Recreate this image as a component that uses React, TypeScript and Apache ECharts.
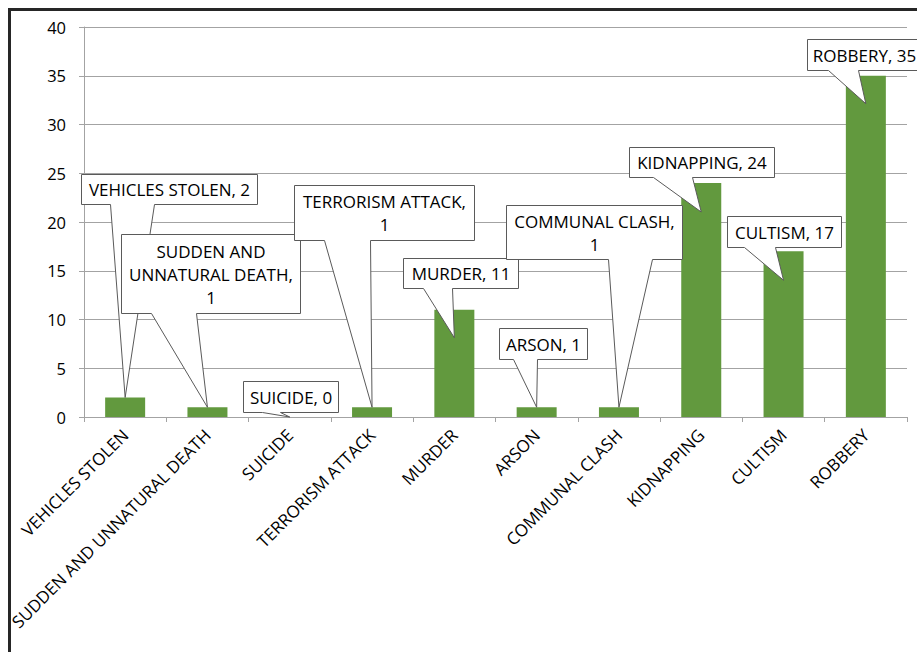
import React, { useEffect, useRef } from "react";
import * as echarts from "echarts";

// Incident categories and counts
const categories: string[] = [
  "VEHICLES STOLEN",
  "SUDDEN AND UNNATURAL DEATH",
  "SUICIDE",
  "TERRORISM ATTACK",
  "MURDER",
  "ARSON",
  "COMMUNAL CLASH",
  "KIDNAPPING",
  "CULTISM",
  "ROBBERY",
];
const counts: number[] = [2, 1, 0, 1, 11, 1, 1, 24, 17, 35];

// Value axis
const yMin = 0;
const yMax = 40;
const yStep = 5;

// Callout layout, in pixels relative to the top-centre of each bar:
// dx/dy = box top-left, w/h = box size, b1/b2 = pointer base along the box bottom,
// tip = how far below the bar top the pointer ends, wrap = max characters per line.
const calloutLayout = [
  { dx: -44, dy: -223.5, w: 176, h: 30, b1: 29, b2: 73, tip: 0, wrap: 40 },
  { dx: -86.5, dy: -173, w: 179, h: 79, b1: 30, b2: 75, tip: 0, wrap: 16 },
  { dx: -47, dy: -36, w: 95, h: 31, b1: 19, b2: 37, tip: 0, wrap: 40 },
  { dx: -78, dy: -222, w: 180, h: 55, b1: 30, b2: 76, tip: 0, wrap: 17 },
  { dx: -51.5, dy: -52, w: 115, h: 30, b1: 20, b2: 49, tip: 28, wrap: 40 },
  { dx: -37.7, dy: -79, w: 88, h: 31, b1: 14, b2: 38, tip: 0, wrap: 40 },
  { dx: -113, dy: -202, w: 176, h: 54, b1: 102, b2: 146, tip: 0, wrap: 15 },
  { dx: -72.3, dy: -36, w: 145, h: 30, b1: 24, b2: 63, tip: 29, wrap: 40 },
  { dx: -56.6, dy: -35, w: 114, h: 31, b1: 17, b2: 48, tip: 29, wrap: 40 },
  { dx: -59, dy: -37, w: 114, h: 31, b1: 21, b2: 51, tip: 28, wrap: 40 },
];

const FONT = "'Open Sans', sans-serif";
const FONT_SIZE = 17;
const TEXT_COLOR = "#000";
const GRID_COLOR = "#a3a3a3";
const BAR_COLOR = "#62993e";

function wrapText(text: string, max: number): string {
  const words = text.split(" ");
  const lines: string[] = [];
  let cur = "";
  for (const w of words) {
    const next = cur ? cur + " " + w : w;
    if (next.length > max && cur) {
      lines.push(cur);
      cur = w;
    } else {
      cur = next;
    }
  }
  if (cur) lines.push(cur);
  return lines.join("\n");
}

const crisp = (v: number) => Math.round(v) + 0.5;

export default function App() {
  const ref = useRef<HTMLDivElement>(null);

  useEffect(() => {
    if (!ref.current) return;
    const chart = echarts.init(ref.current, undefined, { renderer: "svg" });

    const calloutData = counts.map((v, i) => [i, v]);

    const option: any = {
      animation: false,
      backgroundColor: "#ffffff",
      grid: { left: 84, right: 10, top: 27, bottom: 235, containLabel: false },
      xAxis: {
        type: "category",
        data: categories,
        axisLine: { show: true, lineStyle: { color: GRID_COLOR, width: 1 } },
        axisTick: { show: true, length: 5, alignWithLabel: false, lineStyle: { color: GRID_COLOR } },
        axisLabel: {
          interval: 0,
          rotate: 45,
          margin: 15,
          color: TEXT_COLOR,
          fontFamily: FONT,
          fontSize: FONT_SIZE,
        },
        splitLine: { show: false },
      },
      yAxis: {
        type: "value",
        min: yMin,
        max: yMax,
        interval: yStep,
        axisLine: { show: true, lineStyle: { color: GRID_COLOR, width: 1 } },
        axisTick: { show: true, length: 5, lineStyle: { color: GRID_COLOR } },
        axisLabel: {
          margin: 18,
          color: TEXT_COLOR,
          fontFamily: FONT,
          fontSize: 16.5,
        },
        splitLine: { show: true, lineStyle: { color: GRID_COLOR, width: 1 } },
      },
      graphic: [
        {
          type: "rect",
          z: 100,
          silent: true,
          shape: { x: 9.5, y: 9.5, width: 1200, height: 1200 },
          style: { fill: "none", stroke: "#262626", lineWidth: 3 },
        },
      ],
      series: [
        {
          type: "bar",
          data: counts,
          barWidth: 40,
          itemStyle: { color: BAR_COLOR },
          z: 2,
        },
        {
          type: "custom",
          data: calloutData,
          clip: false,
          z: 5,
          encode: { x: 0, y: 1 },
          renderItem: (params: any, api: any) => {
            const i = api.value(0);
            const v = api.value(1);
            const [cx, top] = api.coord([i, v]);
            const L = calloutLayout[i];
            const x0 = crisp(cx + L.dx);
            const y0 = crisp(top + L.dy);
            const x1 = x0 + L.w;
            const y1 = y0 + L.h;
            const tipX = cx;
            const tipY = top + L.tip;
            const label = wrapText(`${categories[i]}, ${counts[i]}`, L.wrap);
            return {
              type: "group",
              children: [
                {
                  type: "polygon",
                  shape: {
                    points: [
                      [x0, y0],
                      [x1, y0],
                      [x1, y1],
                      [x0 + L.b2, y1],
                      [tipX, tipY],
                      [x0 + L.b1, y1],
                      [x0, y1],
                    ],
                  },
                  style: { fill: "#ffffff", stroke: "#5a5a5a", lineWidth: 1 },
                },
                {
                  type: "text",
                  style: {
                    text: label,
                    x: (x0 + x1) / 2,
                    y: (y0 + y1) / 2,
                    align: "center",
                    verticalAlign: "middle",
                    fill: TEXT_COLOR,
                    font: `${FONT_SIZE}px ${FONT}`,
                    lineHeight: 23,
                  },
                },
              ],
            };
          },
        },
      ],
    };

    chart.setOption(option);
    return () => chart.dispose();
  }, []);

  return (
    <div
      ref={ref}
      style={{ position: "fixed", left: 0, top: 0, width: 917, height: 652, background: "#fff" }}
    />
  );
}
